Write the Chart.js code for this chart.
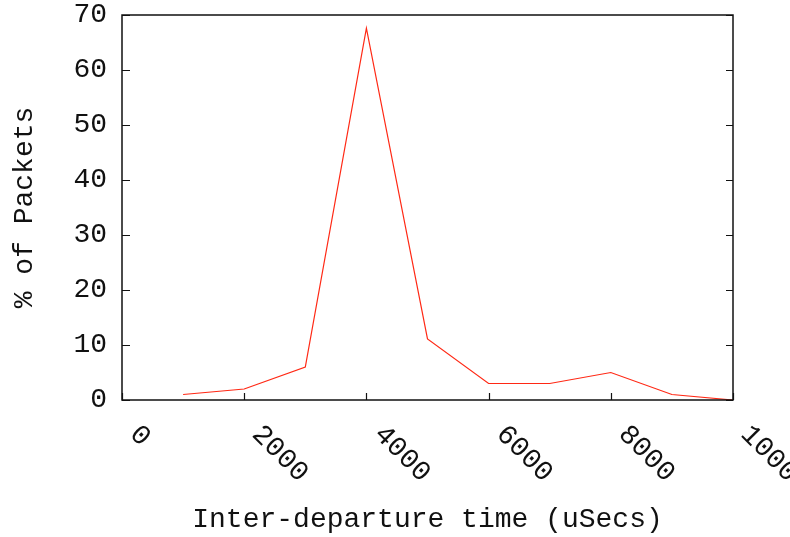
<!DOCTYPE html>
<html>
<head>
<meta charset="utf-8">
<script src="https://cdn.jsdelivr.net/npm/chart.js@4.4.1/dist/chart.umd.min.js"></script>
<style>
  html, body { margin: 0; padding: 0; background: #fff; }
  #wrap { width: 790px; height: 537px; position: relative; }
</style>
</head>
<body>
<div id="wrap"><canvas id="c"></canvas></div>
<script>
// Inter-departure time histogram (% of packets per bin)
const binTimes = [1000, 2000, 3000, 4000, 5000, 6000, 7000, 8000, 9000, 10000];
const packetPercent = [1, 2, 6, 67.6, 11.1, 3, 3, 5, 1, 0];
const xTickValues = [0, 2000, 4000, 6000, 8000, 10000];
const yTickValues = [0, 10, 20, 30, 40, 50, 60, 70];

const FONT = '"Liberation Mono", "Courier New", monospace';
const FONT_SIZE = 28;
const INK = '#111';

// Frame, inward tick marks and slanted x tick labels
const framePlugin = {
  id: 'frame',
  afterDraw(chart) {
    const { ctx, chartArea: a, scales: { x, y } } = chart;
    ctx.save();
    ctx.strokeStyle = INK;
    ctx.lineWidth = 1.5;
    ctx.strokeRect(a.left, a.top, a.right - a.left, a.bottom - a.top);
    ctx.lineWidth = 1.2;
    ctx.beginPath();
    y.ticks.forEach(t => {
      const py = Math.round(y.getPixelForValue(t.value)) + 0.5;
      ctx.moveTo(a.left, py); ctx.lineTo(a.left + 8, py);
      ctx.moveTo(a.right, py); ctx.lineTo(a.right - 7, py);
    });
    x.ticks.forEach(t => {
      const px = Math.round(x.getPixelForValue(t.value)) + 0.5;
      ctx.moveTo(px, a.bottom); ctx.lineTo(px, a.bottom - 7);
    });
    ctx.stroke();

    ctx.fillStyle = INK;
    ctx.font = FONT_SIZE + 'px ' + FONT;
    ctx.textAlign = 'left';
    ctx.textBaseline = 'middle';
    x.ticks.forEach(t => {
      const px = x.getPixelForValue(t.value);
      ctx.save();
      ctx.translate(px + 12, a.bottom + 30);
      ctx.rotate(Math.PI / 4);
      ctx.fillText(String(t.value), 0, 0);
      ctx.restore();
    });
    ctx.restore();
  }
};

new Chart(document.getElementById('c'), {
  type: 'line',
  data: {
    datasets: [{
      data: binTimes.map((t, i) => ({ x: t, y: packetPercent[i] })),
      borderColor: 'rgb(255, 40, 20)',
      borderWidth: 1.2,
      pointRadius: 0,
      tension: 0,
      fill: false
    }]
  },
  options: {
    responsive: true,
    maintainAspectRatio: false,
    animation: false,
    layout: { padding: { top: 15, right: 57, bottom: 0, left: 0 } },
    plugins: { legend: { display: false }, tooltip: { enabled: false } },
    scales: {
      x: {
        type: 'linear',
        min: 0, max: 10000,
        afterBuildTicks(scale) { scale.ticks = xTickValues.map(v => ({ value: v })); },
        afterFit(scale) { scale.height = 137; scale.paddingLeft = 0; scale.paddingRight = 0; },
        grid: { display: false, drawTicks: false },
        border: { display: false },
        ticks: { display: false },
        title: {
          display: true,
          text: 'Inter-departure time (uSecs)',
          color: INK,
          font: { family: FONT, size: FONT_SIZE },
          padding: { top: 0, bottom: 1 }
        }
      },
      y: {
        min: 0, max: 70,
        afterBuildTicks(scale) { scale.ticks = yTickValues.map(v => ({ value: v })); },
        afterFit(scale) { scale.width = 122; scale.paddingTop = 0; scale.paddingBottom = 0; },
        grid: { display: false, drawTicks: false },
        border: { display: false },
        ticks: {
          color: INK,
          padding: 15,
          font: { family: FONT, size: FONT_SIZE },
          callback: v => String(v)
        },
        title: {
          display: true,
          text: '% of Packets',
          color: INK,
          font: { family: FONT, size: FONT_SIZE },
          padding: { top: 8, bottom: 0 }
        }
      }
    }
  },
  plugins: [framePlugin]
});
</script>
</body>
</html>
